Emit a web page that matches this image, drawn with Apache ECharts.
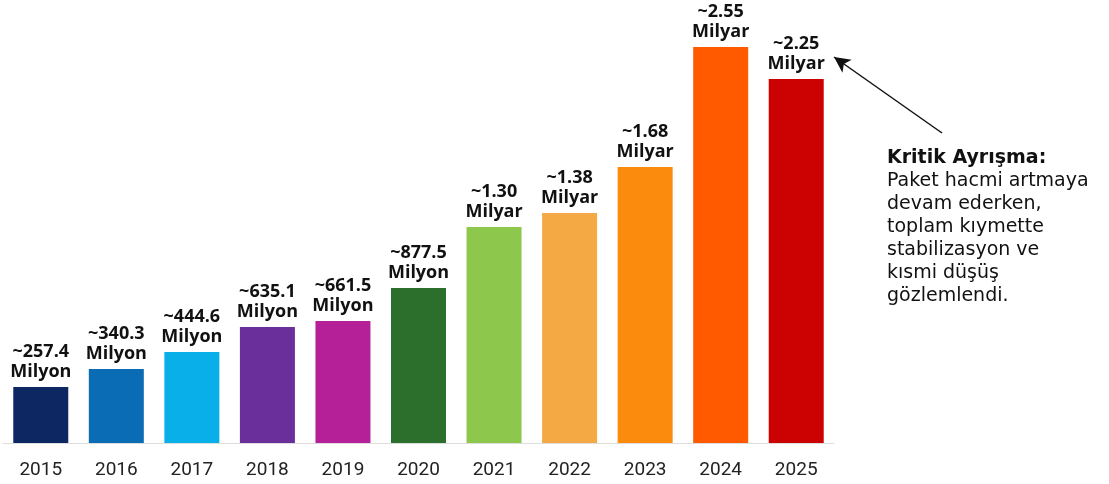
<!DOCTYPE html>
<html>
<head>
<meta charset="utf-8">
<script src="https://cdn.jsdelivr.net/npm/echarts@6/dist/echarts.min.js"></script>
<style>html,body{margin:0;padding:0;background:#fff;}#c{width:1109px;height:484px;}</style>
</head>
<body>
<div id="c"></div>
<script>
// Categories
const years = ['2015','2016','2017','2018','2019','2020','2021','2022','2023','2024','2025'];
// Value labels as printed above the bars
const valueLabels = ['~257.4','~340.3','~444.6','~635.1','~661.5','~877.5','~1.30','~1.38','~1.68','~2.55','~2.25'];
const unitLabels = ['Milyon','Milyon','Milyon','Milyon','Milyon','Milyon','Milyar','Milyar','Milyar','Milyar','Milyar'];
// Bar heights as drawn in the picture (read on the picture's own visual scale, 2024 = 2550)
const barHeights = [361, 477, 586, 747, 786, 998, 1391, 1481, 1777, 2550, 2344];
const barColors = ['#0c2762','#0a6cb4','#09afe9','#6b2f9b','#b51f97','#2c6e2c','#8dc84c','#f5a944','#fb8b0d','#ff5a00','#cc0202'];

const annotationTitle = 'Kritik Ayrışma:';
const annotationLines = ['Paket hacmi artmaya','devam ederken,','toplam kıymette','stabilizasyon ve','kısmi düşüş','gözlemlendi.'];

const chart = echarts.init(document.getElementById('c'), null, {renderer:'canvas'});
chart.setOption({
  backgroundColor:'#ffffff',
  animation:false,
  grid:{left:3, right:275, top:47, bottom:41, containLabel:false},
  xAxis:{
    type:'category',
    data:years,
    axisLine:{show:true, lineStyle:{color:'#dddddd', width:1}},
    axisTick:{show:false},
    axisLabel:{color:'#222222', fontSize:19, fontFamily:'Roboto', margin:18}
  },
  yAxis:{type:'value', min:0, max:2550, show:false, splitLine:{show:false}},
  series:[{
    type:'bar',
    barWidth:55,
    data:barHeights.map((v,i)=>({value:v, itemStyle:{color:barColors[i]}})),
    label:{
      show:true,
      position:'top',
      distance:5,
      formatter:(p)=>'{v|'+valueLabels[p.dataIndex]+'}\n{v|'+unitLabels[p.dataIndex]+'}',
      rich:{v:{fontFamily:'Open Sans', fontWeight:'bold', fontSize:18, lineHeight:20, color:'#111111', align:'center'}}
    },
    markLine:{
      silent:true,
      symbolSize:[12,16],
      lineStyle:{color:'#111111', width:1.5, type:'solid'},
      label:{show:false},
      data:[[{x:942, y:133, symbol:'none'},{x:834, y:57, symbol:'arrow'}]]
    }
  }],
  graphic:[{
    type:'text',
    left:887,
    top:149,
    style:{
      text:'{b|'+annotationTitle+'}\n'+annotationLines.map(s=>'{r|'+s+'}').join('\n'),
      rich:{
        b:{fontFamily:'DejaVu Sans', fontWeight:'bold', fontSize:19, lineHeight:23, fill:'#111111'},
        r:{fontFamily:'DejaVu Sans', fontSize:19, lineHeight:23, fill:'#111111'}
      }
    }
  }]
});
</script>
</body>
</html>
